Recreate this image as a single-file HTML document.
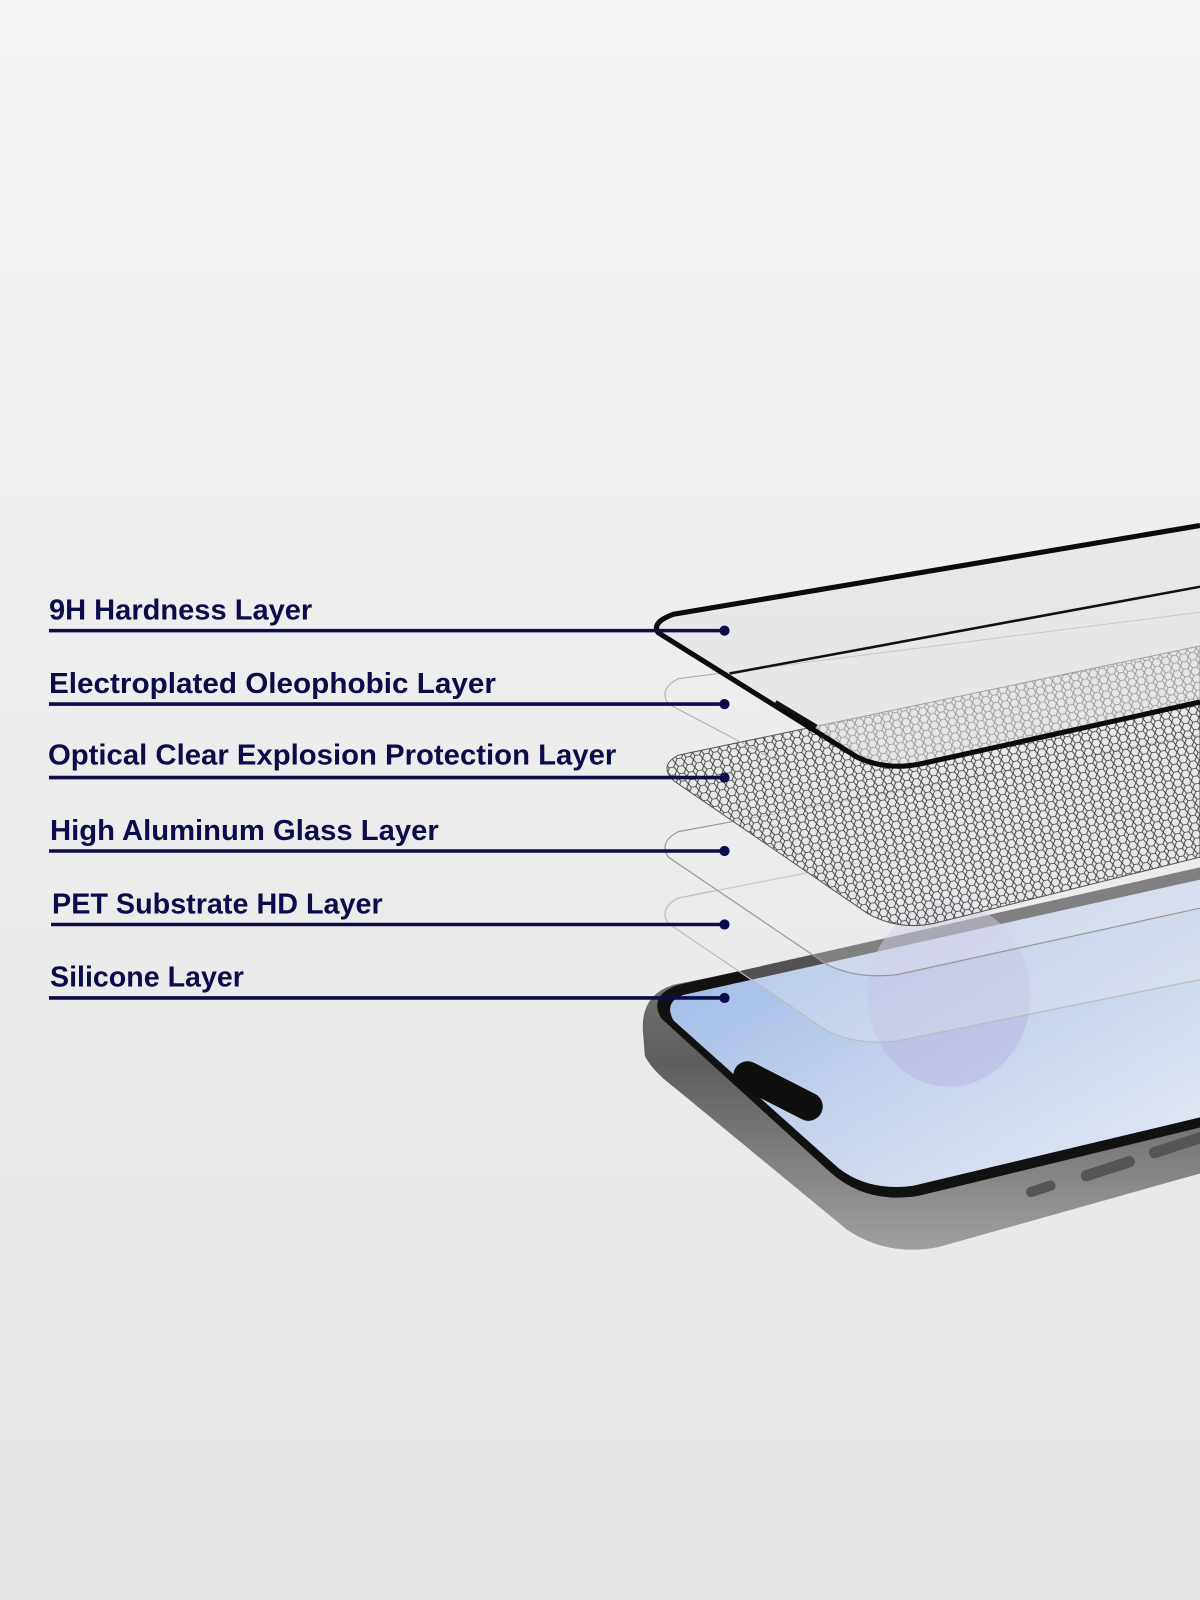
<!DOCTYPE html>
<html><head><meta charset="utf-8"><style>
html,body{margin:0;padding:0;}
body{width:1200px;height:1600px;overflow:hidden;background:linear-gradient(#f4f4f4,#ebebeb 60%,#e6e6e6);}
svg{position:absolute;left:0;top:0;}
</style></head><body>
<svg width="1200" height="1600" viewBox="0 0 1176 1568" preserveAspectRatio="none" xmlns="http://www.w3.org/2000/svg">
<defs>
<pattern id="hex" width="9" height="7.5" patternUnits="userSpaceOnUse" patternTransform="rotate(-10)">
<path d="M2.25,0 L6.75,0 L9,3.75 L6.75,7.5 L2.25,7.5 L0,3.75 Z" fill="none" stroke="#333" stroke-width="0.8"/>
</pattern>
<linearGradient id="body" x1="0" y1="0" x2="0" y2="1">
<stop offset="0" stop-color="#8a8a8a"/><stop offset="0.5" stop-color="#5d5d5d"/><stop offset="1" stop-color="#a0a0a0"/>
</linearGradient>
<linearGradient id="scr" x1="0" y1="0" x2="1" y2="1">
<stop offset="0" stop-color="#8fb3e6"/><stop offset="0.5" stop-color="#c3d1ec"/><stop offset="1" stop-color="#e6ebf4"/>
</linearGradient>
</defs>
<!-- phone body -->
<path d="M1176,860 L660,965 Q628,975 630,1010 L632,1035 Q640,1050 660,1065 L830,1205 Q870,1232 920,1222 L1176,1150 Z" fill="url(#body)"/>
<path d="M1176,850 L665,965 Q635,975 648,998 L815,1150 Q850,1180 900,1172 L1176,1105 Z" fill="#111"/>
<path d="M1176,862 L670,975 Q650,982 660,1000 L822,1145 Q852,1168 895,1162 L1176,1095 Z" fill="url(#scr)"/>
<ellipse cx="930" cy="975" rx="80" ry="90" fill="#b7b4e0" opacity="0.5"/>
<rect x="715" y="1055" width="95" height="28" rx="14" fill="#0e0e0e" transform="rotate(27 762 1069)"/>
<rect x="1005" y="1160" width="30" height="10" rx="5" fill="#555" transform="rotate(-18 1020 1165)"/>
<rect x="1058" y="1140" width="55" height="11" rx="5" fill="#555" transform="rotate(-18 1085 1145)"/>
<rect x="1125" y="1118" width="60" height="11" rx="5" fill="#555" transform="rotate(-18 1150 1123)"/>
<!-- thin layers -->
<path d="M1176,780 L665,880 Q645,890 655,905 L810,1010 Q840,1025 880,1020 L1176,960" fill="rgba(235,235,240,0.3)" stroke="#bbb" stroke-width="1.2"/>
<path d="M1176,720 L665,815 Q645,825 655,840 L810,945 Q840,960 880,955 L1176,890" fill="rgba(235,235,240,0.3)" stroke="#999" stroke-width="1.2"/>
<!-- mesh layer -->
<path d="M1176,633 L665,740 Q645,750 660,765 L850,895 Q880,912 915,905 L1176,840 Z" fill="rgba(230,230,232,0.6)"/>
<path d="M1176,633 L665,740 Q645,750 660,765 L850,895 Q880,912 915,905 L1176,840 Z" fill="url(#hex)" stroke="#555" stroke-width="1"/>
<!-- oleophobic -->
<path d="M1176,600 L665,665 Q645,675 655,690 L760,745" fill="none" stroke="#aaa" stroke-width="1"/>
<!-- 9H glass -->
<path d="M1176,515 L660,602 Q638,610 645,620 L840,742 Q870,756 905,748 L1176,688" fill="rgba(225,225,225,0.55)" stroke="#0b0b0b" stroke-width="5"/>
<path d="M715,660 L1176,575" stroke="#111" stroke-width="2.5"/>
<path d="M760,688 L800,712" stroke="#111" stroke-width="4"/>
<!-- labels -->
<g font-family="Liberation Sans, sans-serif" font-weight="bold" font-size="28" fill="#0c0c4a" lengthAdjust="spacingAndGlyphs">
<text x="48" y="607" textLength="258" lengthAdjust="spacingAndGlyphs">9H Hardness Layer</text>
<text x="48" y="679" textLength="438" lengthAdjust="spacingAndGlyphs">Electroplated Oleophobic Layer</text>
<text x="47" y="749" textLength="557" lengthAdjust="spacingAndGlyphs">Optical Clear Explosion Protection Layer</text>
<text x="49" y="823" textLength="381" lengthAdjust="spacingAndGlyphs">High Aluminum Glass Layer</text>
<text x="51" y="895" textLength="324" lengthAdjust="spacingAndGlyphs">PET Substrate HD Layer</text>
<text x="49" y="967" textLength="190" lengthAdjust="spacingAndGlyphs">Silicone Layer</text>
</g>
<g stroke="#0c0c4a" stroke-width="3.5">
<line x1="48" y1="618" x2="710" y2="618"/>
<line x1="48" y1="690" x2="710" y2="690"/>
<line x1="48" y1="762" x2="710" y2="762"/>
<line x1="48" y1="834" x2="710" y2="834"/>
<line x1="50" y1="906" x2="710" y2="906"/>
<line x1="48" y1="978" x2="710" y2="978"/>
</g>
<g fill="#0c0c4a">
<circle cx="710" cy="618" r="5"/><circle cx="710" cy="690" r="5"/><circle cx="710" cy="762" r="5"/>
<circle cx="710" cy="834" r="5"/><circle cx="710" cy="906" r="5"/><circle cx="710" cy="978" r="5"/>
</g>
</svg>
</body></html>
